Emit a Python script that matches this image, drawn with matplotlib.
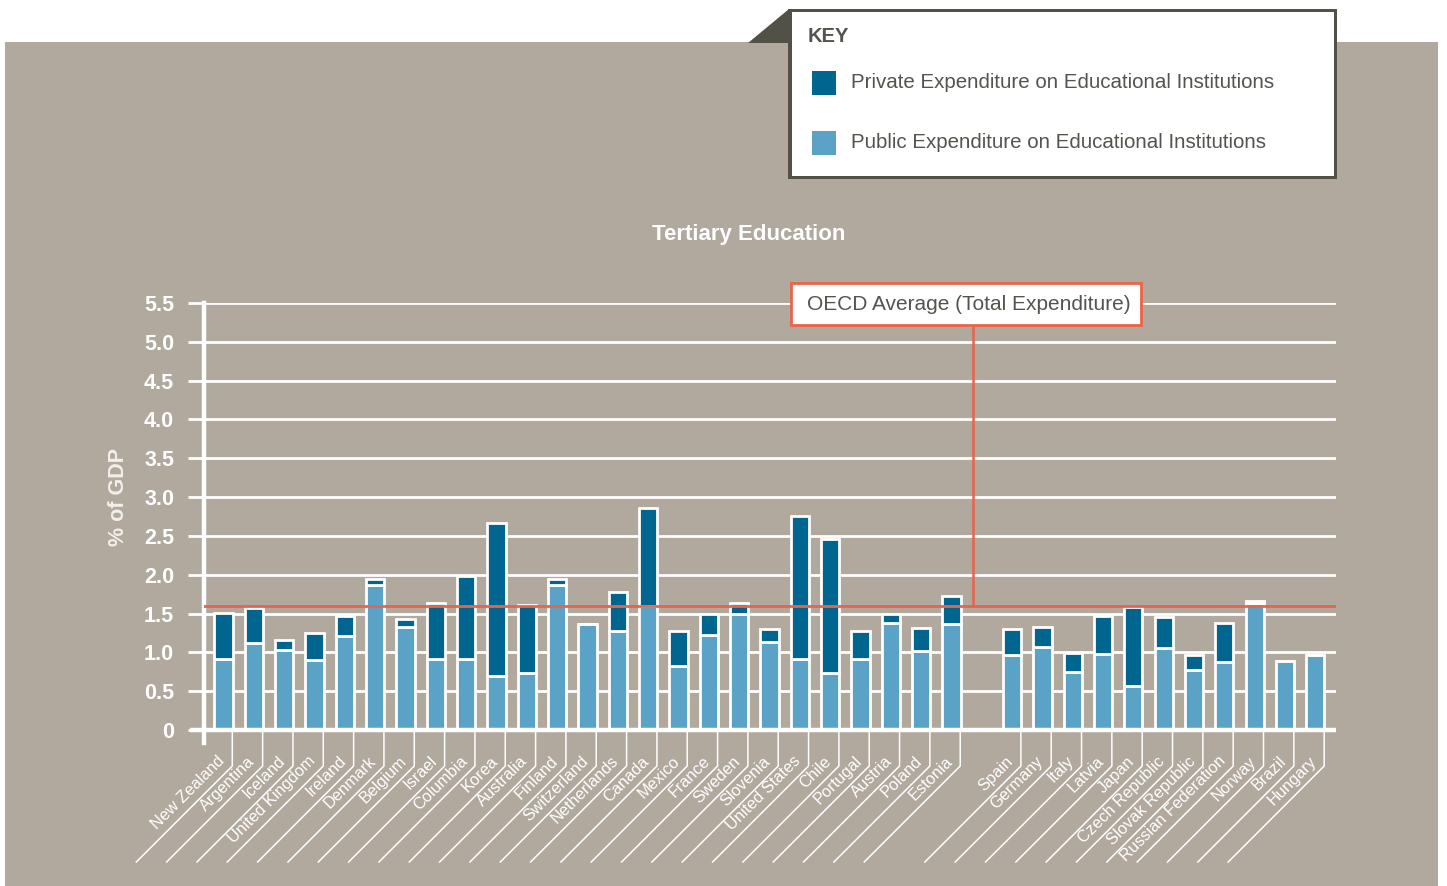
import numpy as np
import matplotlib.pyplot as plt
from matplotlib.patches import Rectangle, Polygon

# ── data (% of GDP) ──────────────────────────────────────────────────────────
countries = [
    "New Zealand", "Argentina", "Iceland", "United Kingdom", "Ireland",
    "Denmark", "Belgium", "Israel", "Columbia", "Korea", "Australia",
    "Finland", "Switzerland", "Netherlands", "Canada", "Mexico", "France",
    "Sweden", "Slovenia", "United States", "Chile", "Portugal", "Austria",
    "Poland", "Estonia",
    "Spain", "Germany", "Italy", "Latvia", "Japan", "Czech Republic",
    "Slovak Republic", "Russian Federation", "Norway", "Brazil", "Hungary",
]
public = [
    0.92, 1.12, 1.03, 0.90, 1.21, 1.87, 1.33, 0.91, 0.91, 0.69, 0.74,
    1.87, 1.37, 1.27, 1.60, 0.82, 1.22, 1.49, 1.13, 0.91, 0.74, 0.91,
    1.38, 1.02, 1.37,
    0.97, 1.07, 0.75, 0.98, 0.57, 1.06, 0.77, 0.88, 1.63, 0.89, 0.96,
]
private = [
    0.59, 0.45, 0.13, 0.35, 0.26, 0.08, 0.10, 0.73, 1.07, 1.98, 0.87,
    0.07, 0.00, 0.51, 1.26, 0.46, 0.27, 0.14, 0.17, 1.84, 1.72, 0.37,
    0.12, 0.29, 0.36,
    0.33, 0.26, 0.24, 0.49, 1.01, 0.40, 0.19, 0.50, 0.03, 0.00, 0.00,
]
n_first_group = 25          # countries left of the OECD average marker
oecd_avg = 1.60
yticks = [0, 0.5, 1.0, 1.5, 2.0, 2.5, 3.0, 3.5, 4.0, 4.5, 5.0, 5.5]
ytick_labels = ["0", "0.5", "1.0", "1.5", "2.0", "2.5", "3.0", "3.5",
                "4.0", "4.5", "5.0", "5.5"]

# ── style ────────────────────────────────────────────────────────────────────
PANEL = "#b1a89e"
DARK_BLUE = "#01668f"
LIGHT_BLUE = "#5ba3c6"
RED = "#ea6449"
KEY_DARK = "#525148"
TEXT_DARK = "#55534d"
plt.rcParams["font.family"] = ["Liberation Sans", "DejaVu Sans"]

W, H = 1447, 886
def fx(x):
    return x / W
def fy(y):
    return 1 - y / H

fig = plt.figure(figsize=(W / 100, H / 100), dpi=100, facecolor="white")

# grey panel behind everything
fig.add_artist(Rectangle((fx(5), 0), fx(1438) - fx(5), fy(42),
                         transform=fig.transFigure, facecolor=PANEL,
                         edgecolor="none", zorder=0))

# main axes: y=0 at px 730, y=5.5 at px 303
ax = fig.add_axes([fx(204), fy(730), fx(1336) - fx(204), fy(303) - fy(730)])
ax.set_facecolor("none")
ax.set_zorder(1)

slot_px = 30.33
y_px = (730 - 303) / 5.5
x0 = (204 - 223.5) / slot_px
x1 = (1336 - 223.5) / slot_px
ax.set_xlim(x0, x1)
ax.set_ylim(0, 5.5)

pos = np.r_[np.arange(n_first_group), np.arange(n_first_group + 1, len(countries) + 1)]
bw = 0.6
ax.bar(pos, public, width=bw, color=LIGHT_BLUE, edgecolor="white",
       linewidth=2, zorder=3)
ax.bar(pos, private, width=bw, bottom=public, color=DARK_BLUE,
       edgecolor="white", linewidth=2, zorder=3)

# grid / axes
ax.set_yticks(yticks)
ax.set_yticklabels(ytick_labels, fontsize=15.5, fontweight="bold", color="white")
ax.tick_params(axis="y", length=11.5, width=2, color="white", pad=10)
ax.set_xticks([])
ax.yaxis.grid(True, color="white", linewidth=2)
ax.set_axisbelow(True)
for s in ["top", "right", "bottom"]:
    ax.spines[s].set_visible(False)
ax.spines["left"].set_color("white")
ax.spines["left"].set_linewidth(3.2)
ax.spines["left"].set_bounds(-13 / y_px, 5.5)
ax.plot([x0 - 14 / slot_px, x1], [0, 0], color="white", lw=3.2,
        clip_on=False, zorder=4, solid_capstyle="butt")

# OECD average line + callout
ax.axhline(oecd_avg, color=RED, lw=2, zorder=5)
x_call = (973 - 223.5) / slot_px
ax.plot([x_call, x_call], [oecd_avg, (730 - 325) / y_px], color=RED, lw=1.8,
        clip_on=False, zorder=5)
fig.add_artist(Rectangle((fx(791), fy(325)), fx(1141) - fx(791), fy(283) - fy(325),
                         transform=fig.transFigure, facecolor="white",
                         edgecolor=RED, linewidth=2, zorder=6))
fig.text(fx(969), fy(304), "OECD Average (Total Expenditure)", ha="center",
         va="center", fontsize=15, color=TEXT_DARK, zorder=7)

# category leader lines and labels
y_corner = -(766 - 730) / y_px
drop = 96
for p, name in zip(pos, countries):
    xr = p + 0.29
    ax.plot([xr, xr, xr - drop / slot_px],
            [0, y_corner, y_corner - drop / y_px],
            color="white", lw=1.1, clip_on=False, zorder=2)
    ax.text(xr - 7 / slot_px, -(762 - 730) / y_px, name, rotation=45,
            rotation_mode="anchor", ha="right", va="baseline",
            fontsize=11.8, color="white", clip_on=False)

# titles
fig.text(fx(749), fy(234), "Tertiary Education", ha="center", va="center",
         fontsize=16, fontweight="bold", color="white")
fig.text(fx(118), fy(497), "% of GDP", ha="center", va="center", rotation=90,
         fontsize=15.5, fontweight="bold", color="#f3f0eb")

# key box
fig.add_artist(Polygon([(fx(748), fy(43)), (fx(789), fy(9)), (fx(789), fy(43))],
                       closed=True, transform=fig.transFigure,
                       facecolor=KEY_DARK, edgecolor="none", zorder=1))
fig.add_artist(Rectangle((fx(788), fy(179)), fx(1337) - fx(788), fy(9) - fy(179),
                         transform=fig.transFigure, facecolor=KEY_DARK,
                         edgecolor="none", zorder=1))
fig.add_artist(Rectangle((fx(792), fy(176)), fx(1334) - fx(792), fy(12) - fy(176),
                         transform=fig.transFigure, facecolor="white",
                         edgecolor="none", zorder=2))
fig.text(fx(808), fy(36), "KEY", ha="left", va="center", fontsize=14.5,
         fontweight="bold", color=TEXT_DARK, zorder=3)
key_items = [("Private Expenditure on Educational Institutions", DARK_BLUE, 83),
             ("Public Expenditure on Educational Institutions", LIGHT_BLUE, 143)]
for label, col, yc in key_items:
    fig.add_artist(Rectangle((fx(812), fy(yc + 12)), fx(836) - fx(812),
                             fy(yc - 12) - fy(yc + 12), transform=fig.transFigure,
                             facecolor=col, edgecolor="none", zorder=3))
    fig.text(fx(851), fy(yc), label, ha="left", va="center", fontsize=14.8,
             color=TEXT_DARK, zorder=3)

fig.savefig("out.png", dpi=100, facecolor="white")
